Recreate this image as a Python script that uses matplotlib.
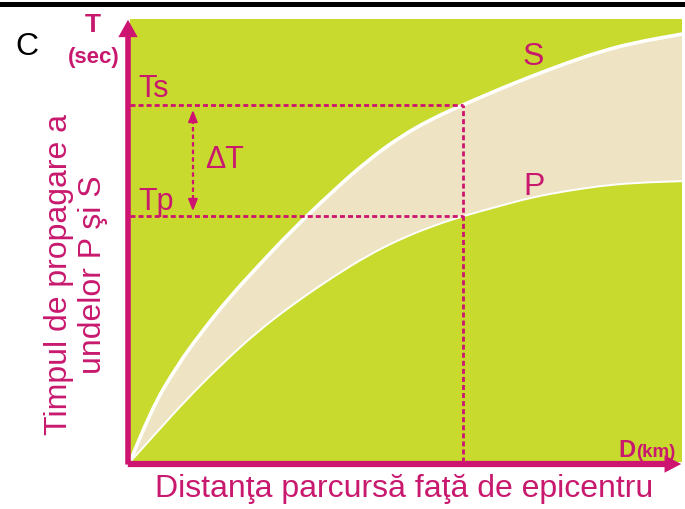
import numpy as np
import matplotlib
matplotlib.use("Agg")
import matplotlib.pyplot as plt
from matplotlib.patches import FancyArrowPatch, PathPatch
from matplotlib.lines import Line2D
from matplotlib.path import Path

# travel-time curves (distance, time in arbitrary units 0-100)
s_dist = [0, 3.6, 8.5, 13.0, 18.1, 23.2, 29.0, 36.8, 42.9, 48.9, 54.9, 60.3, 67.0, 73.0, 79.2, 85.1, 91.1, 100]
s_time = [0, 11.3, 21.7, 29.4, 37.3, 44.2, 51.9, 61.2, 67.9, 73.4, 77.6, 80.6, 84.2, 87.2, 90.1, 92.6, 94.6, 96.6]
p_dist = [0, 4.9, 10.3, 16.3, 23.0, 30.2, 36.8, 42.9, 48.9, 54.9, 60.3, 67.0, 73.0, 79.2, 85.1, 91.1, 100]
p_time = [0, 6.8, 14.2, 21.7, 29.4, 36.2, 41.8, 46.5, 50.3, 53.3, 55.5, 57.8, 59.8, 61.2, 62.3, 63.0, 63.4]

d_mark = 60.3   # station distance
t_s = 80.6      # S arrival
t_p = 55.5      # P arrival
d_delta = 11.4  # where the delta-T arrow sits

MAG = "#cc1470"
TXT = "#c8196e"
GREEN = "#c9da2e"
BEIGE = "#eee4c4"
W, H = 685, 510

plt.rcParams["font.family"] = ["Liberation Sans", "DejaVu Sans"]


def smooth_path(xs, ys, start_move=True):
    # quadratic bezier through the midpoints, so the curve has no corners
    pts = list(zip(xs, ys))
    verts = [pts[0]]
    codes = [Path.MOVETO if start_move else Path.LINETO]
    for i in range(1, len(pts) - 1):
        mid = ((pts[i][0] + pts[i + 1][0]) / 2, (pts[i][1] + pts[i + 1][1]) / 2)
        verts += [pts[i], mid]
        codes += [Path.CURVE3, Path.CURVE3]
    verts.append(pts[-1])
    codes.append(Path.LINETO)
    return verts, codes


fig = plt.figure(figsize=(W / 100, H / 100), dpi=100)
fig.patch.set_facecolor("white")


def fx(x):
    return x / W


def fy(y):
    return 1 - y / H


# axes box: left 130, right 682, top 20, bottom 463 (pixels)
ax = fig.add_axes([fx(130), fy(463), (682 - 130) / W, (463 - 20) / H])
ax.set_xlim(0, 100)
ax.set_ylim(0, 100)
ax.set_facecolor(GREEN)
for sp in ax.spines.values():
    sp.set_visible(False)
ax.set_xticks([])
ax.set_yticks([])

# band between the S and P curves
sv, sc = smooth_path(s_dist, s_time)
pv, pc = smooth_path(p_dist[::-1], p_time[::-1], start_move=False)
band = Path(sv + pv + [sv[0]], sc + pc + [Path.CLOSEPOLY])
ax.add_patch(PathPatch(band, facecolor=BEIGE, lw=0))
ax.add_patch(PathPatch(Path(sv, sc), fill=False, edgecolor="white", lw=2.6, capstyle="round"))
pv2, pc2 = smooth_path(p_dist, p_time)
ax.add_patch(PathPatch(Path(pv2, pc2), fill=False, edgecolor="white", lw=1.4, capstyle="round"))

# dashed reading lines
dash = (0, (1.8, 1.1))
ax.plot([0, d_mark], [t_s, t_s], color=MAG, lw=2, ls=dash)
ax.plot([0, d_mark], [t_p, t_p], color=MAG, lw=2, ls=dash)
ax.plot([d_mark, d_mark], [0, t_s], color=MAG, lw=2, ls=dash)

# delta-T double arrow
ax.plot([d_delta, d_delta], [t_p + 2, t_s - 2], color=MAG, lw=1.6, ls=(0, (2, 1.4)))
ax.annotate("", xy=(d_delta, t_s - 0.5), xytext=(d_delta, t_s - 3),
            arrowprops=dict(arrowstyle="-|>,head_length=0.7,head_width=0.28", lw=1.4, color=MAG))
ax.annotate("", xy=(d_delta, t_p + 0.5), xytext=(d_delta, t_p + 3),
            arrowprops=dict(arrowstyle="-|>,head_length=0.7,head_width=0.28", lw=1.4, color=MAG))

# axis arrows
yarrow = FancyArrowPatch((-0.0036, -0.012), (-0.0036, 1.0045), transform=ax.transAxes,
                         arrowstyle="simple,head_width=1.4,head_length=1.25,tail_width=0.4",
                         mutation_scale=10, color=MAG, lw=0, clip_on=False)
xarrow = FancyArrowPatch((-0.009, -0.0045), (1.0036, -0.0045), transform=ax.transAxes,
                         arrowstyle="simple,head_width=1.25,head_length=1.2,tail_width=0.45",
                         mutation_scale=10, color=MAG, lw=0, clip_on=False)
ax.add_patch(yarrow)
ax.add_patch(xarrow)

# top black rule
fig.add_artist(Line2D([0, 1], [fy(4.5), fy(4.5)], color="black", lw=3.6, transform=fig.transFigure))

# labels
fig.text(fx(15), fy(55), "C", fontsize=23, color="black", va="baseline")
fig.text(fx(93), fy(32), "T", fontsize=19, color=TXT, weight="bold", ha="center", va="baseline")
fig.text(fx(94), fy(63), "(sec)", fontsize=16, color=TXT, weight="bold", ha="center", va="baseline")
fig.text(fx(138), fy(97), "Ts", fontsize=22, color=TXT, va="baseline")
fig.text(fx(138), fy(210), "Tp", fontsize=22, color=TXT, va="baseline")
fig.text(fx(205), fy(168), "ΔT", fontsize=22, color=TXT, va="baseline")
fig.text(fx(523), fy(65), "S", fontsize=23, color=TXT, va="baseline")
fig.text(fx(523), fy(195), "P", fontsize=23, color=TXT, va="baseline")
fig.text(fx(618), fy(457), "D", fontsize=17, color=TXT, weight="bold", va="baseline")
fig.text(fx(636), fy(457), "(km)", fontsize=13.5, color=TXT, weight="bold", va="baseline")
fig.text(fx(404), fy(497), "Distanţa parcursă faţă de epicentru", fontsize=23, color=TXT,
         ha="center", va="baseline")
fig.text(fx(76), fy(275), "Timpul de propagare a\nundelor P şi S", fontsize=23, color=TXT,
         ha="center", va="center", rotation=90, multialignment="center")

fig.savefig("out.png", dpi=100)
